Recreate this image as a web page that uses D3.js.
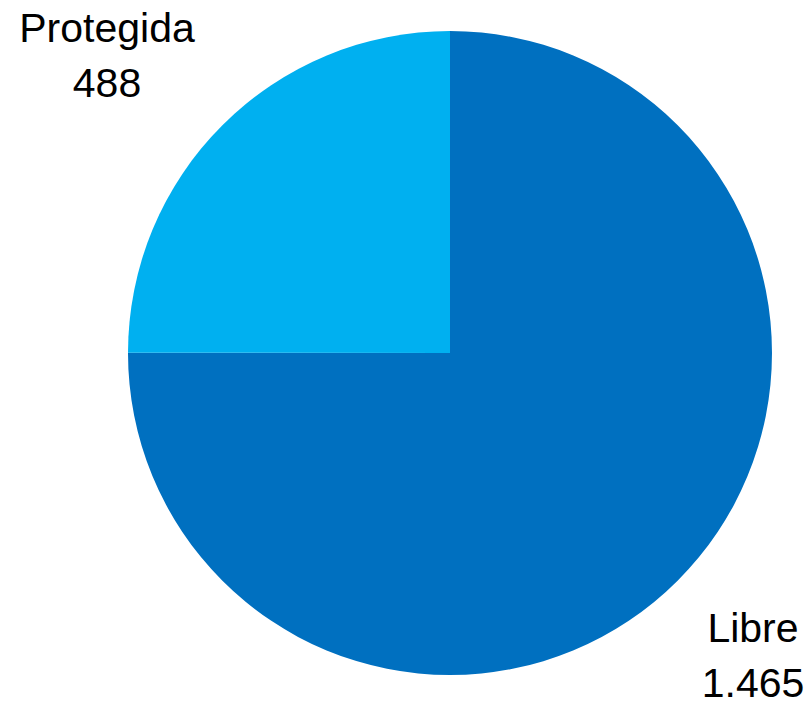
<!DOCTYPE html>
<html>
<head>
<meta charset="utf-8">
<script src="https://cdn.jsdelivr.net/npm/d3@7"></script>
<style>
  html, body { margin: 0; padding: 0; background: #fff; }
  svg { display: block; }
  text { font-family: "Liberation Sans", Arial, sans-serif; fill: #000; }
</style>
</head>
<body>
<svg id="chart" width="807" height="701"></svg>
<script>
// Parking spaces by type
const categories = ["Libre", "Protegida"];
const values = [1465, 488];
const valueLabels = ["1.465", "488"];
const colors = ["#0070C0", "#00B0F0"];

const svg = d3.select("#chart");
const cx = 450, cy = 353, radius = 322;

const pie = d3.pie().sort(null).value(d => d.value);
const arc = d3.arc().innerRadius(0).outerRadius(radius);

const data = categories.map((c, i) => ({ name: c, value: values[i], label: valueLabels[i], color: colors[i] }));
const arcs = pie(data);

const g = svg.append("g").attr("transform", `translate(${cx},${cy})`);
g.selectAll("path")
  .data(arcs)
  .join("path")
  .attr("d", arc)
  .attr("fill", d => d.data.color);

// Outside labels: name on first line, value below
const labelPos = {
  "Libre": [753, 642],
  "Protegida": [107, 42]
};
const fontSize = 41;
arcs.forEach(a => {
  const [x, y] = labelPos[a.data.name];
  const t = svg.append("text")
    .attr("x", x).attr("y", y)
    .attr("text-anchor", "middle")
    .attr("font-size", fontSize);
  t.append("tspan").attr("x", x).text(a.data.name);
  t.append("tspan").attr("x", x).attr("dy", 55).text(a.data.label);
});
</script>
</body>
</html>
